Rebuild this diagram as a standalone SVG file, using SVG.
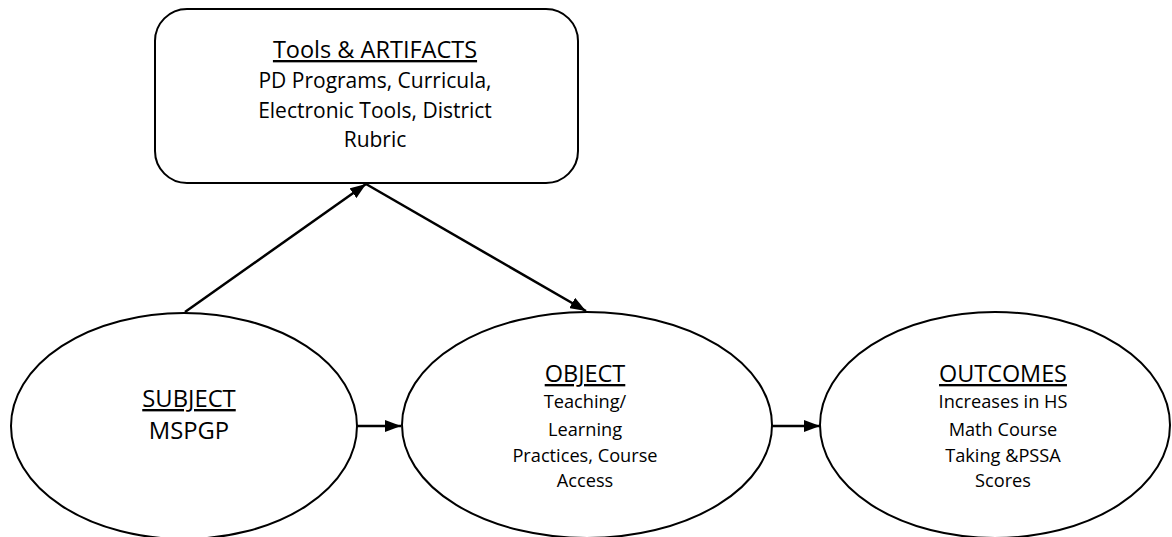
<svg xmlns="http://www.w3.org/2000/svg" width="1172" height="537" viewBox="0 0 1172 537">
<defs>
<marker id="ah" viewBox="0 0 16 12" refX="16" refY="6" markerWidth="16" markerHeight="12" markerUnits="userSpaceOnUse" orient="auto">
<path d="M0,0 L16,6 L0,12 Z" fill="#000"/>
</marker>
</defs>
<style>
.shape{fill:#fff;stroke:#000;stroke-width:2}
.t{font-family:"Open Sans","Liberation Sans",sans-serif;fill:#000;text-anchor:middle}
.h{text-decoration:underline}
.conn line{stroke:#000;stroke-width:2.5;marker-end:url(#ah)}
</style>
<rect width="1172" height="537" fill="#fff"/>
<g id="tools">
<rect class="shape" x="155" y="9" width="423" height="174" rx="32" ry="32"/>
<text class="t h" x="375" y="58" font-size="23.5">Tools &amp; ARTIFACTS</text>
<text class="t" x="375" y="88" font-size="21">PD Programs, Curricula,</text>
<text class="t" x="375" y="118" font-size="21">Electronic Tools, District</text>
<text class="t" x="375" y="147" font-size="21">Rubric</text>
</g>
<g id="subject">
<ellipse class="shape" cx="184" cy="426" rx="173" ry="113"/>
<text class="t h" x="189" y="407" font-size="23.8">SUBJECT</text>
<text class="t" x="189" y="439" font-size="23.8">MSPGP</text>
</g>
<g id="object">
<ellipse class="shape" cx="587" cy="425" rx="185" ry="113"/>
<text class="t h" x="585" y="382" font-size="23.5">OBJECT</text>
<text class="t" x="585" y="408" font-size="18.2">Teaching/</text>
<text class="t" x="585" y="436" font-size="18.2">Learning</text>
<text class="t" x="585" y="462" font-size="18.2">Practices, Course</text>
<text class="t" x="585" y="487" font-size="18.2">Access</text>
</g>
<g id="outcomes">
<ellipse class="shape" cx="995" cy="425" rx="175" ry="113"/>
<text class="t h" x="1003" y="382" font-size="23.4">OUTCOMES</text>
<text class="t" x="1003" y="408" font-size="18.2">Increases in HS</text>
<text class="t" x="1003" y="436" font-size="18.2">Math Course</text>
<text class="t" x="1003" y="462" font-size="18.2">Taking &amp;PSSA</text>
<text class="t" x="1003" y="487" font-size="18.2">Scores</text>
</g>
<g id="connectors" class="conn">
<line x1="185" y1="312" x2="366" y2="184"/>
<line x1="366" y1="184" x2="586" y2="311"/>
<line x1="357" y1="426" x2="401" y2="426"/>
<line x1="772" y1="426" x2="820" y2="426"/>
</g>
</svg>
